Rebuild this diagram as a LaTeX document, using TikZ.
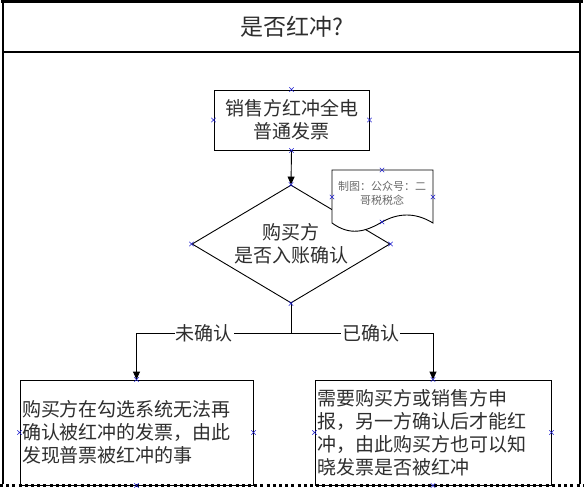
\documentclass[tikz,border=0pt]{standalone}
\usepackage{fontspec}
\newfontfamily\cjk{Noto Sans CJK SC}
\usetikzlibrary{arrows.meta,positioning,calc,shapes.geometric}
\definecolor{cptblue}{HTML}{2020D0}
\definecolor{txtgrey}{HTML}{2E2E2E}
\definecolor{notegrey}{HTML}{6A6A6A}
\tikzset{
  cpx/.pic={\draw[cptblue,line width=0.5pt] (-2.2pt,-2.2pt) -- (2.2pt,2.2pt) (-2.2pt,2.2pt) -- (2.2pt,-2.2pt);},
  flowbox/.style={draw,line width=0.9pt,inner sep=2pt},
  flowarrow/.style={line width=0.9pt,-{Triangle[width=7pt,length=8pt]}},
  cjktext/.style={font=\cjk\fontsize{19}{23}\selectfont,text=txtgrey},
}
\begin{document}
\begin{tikzpicture}[x=1pt,y=-1pt]
  \useasboundingbox (0,0) rectangle (584,488);
  % frame and title row
  \draw[line width=2.5pt] (1,1.5) -- (583,1.5);
  \draw[line width=1.8pt] (3,0) -- (3,484);
  \draw[line width=1.8pt] (580,0) -- (580,484);
  \draw[line width=1.2pt] (3,52) -- (580,52);
  \node[cjktext,font=\cjk\fontsize{23}{26}\selectfont] (title) at (291.5,27) {是否红冲?};
  % boxes
  \node[flowbox,cjktext,minimum width=155pt,minimum height=60pt,align=center] (sale) at (291.5,120) {销售方红冲全电\\普通发票};
  \node[flowbox,cjktext,diamond,aspect=1.68,minimum width=198pt,minimum height=118pt,inner sep=0pt,align=center] (check) at (291,244) {购买方\\是否入账确认};
  \node[flowbox,cjktext,minimum width=233pt,minimum height=105pt,text width=229pt,align=left] (left) at (136.5,432.5) {购买方在勾选系统无法再\\确认被红冲的发票，由此\\发现普票被红冲的事};
  \node[flowbox,cjktext,minimum width=236pt,minimum height=105pt,text width=232pt,align=left] (right) at (433,432.5) {需要购买方或销售方申\\报，另一方确认后才能红\\冲，由此购买方也可以知\\晓发票是否被红冲};
  % note sheet over the diamond
  \coordinate (noteN) at (382,170);
  \coordinate (noteS) at (382,222);
  \coordinate (noteW) at (332,197);
  \coordinate (noteE) at (433,197);
  \draw[line width=0.9pt,fill=white] (332,170) -- (433,170) -- (433,223)
    .. controls (415,212) and (398,213) .. (noteS) .. controls (365,232) and (350,236) .. (332,223) -- cycle;
  \node[font=\cjk\fontsize{11}{14}\selectfont,text=notegrey,align=center] (note) at (382,193) {制图：公众号：二\\哥税税念};
  % connectors
  \coordinate (split) at (291,333);
  \draw[flowarrow] (sale.south) -- (check.north);
  \draw[line width=0.9pt] (check.south) -- (split);
  \draw[flowarrow] (split) -| node[pos=0.28,fill=white,cjktext,inner sep=1pt] (no) {未确认} (left.north);
  \draw[flowarrow] (split) -| node[pos=0.28,fill=white,cjktext,inner sep=1pt] (yes) {已确认} (right.north);
  % bottom edge
  \draw[line width=3pt,dash pattern=on 3pt off 3.2pt] (0,485) -- (584,485);
  % connection points
  \foreach \p in {sale.north,sale.south,sale.west,sale.east,
                  check.north,check.south,check.west,check.east,
                  left.north,left.south,left.west,left.east,
                  right.north,right.south,right.west,right.east,
                  noteN,noteS,noteW,noteE}{
     \pic at (\p) {cpx};
  }
\end{tikzpicture}
\end{document}
